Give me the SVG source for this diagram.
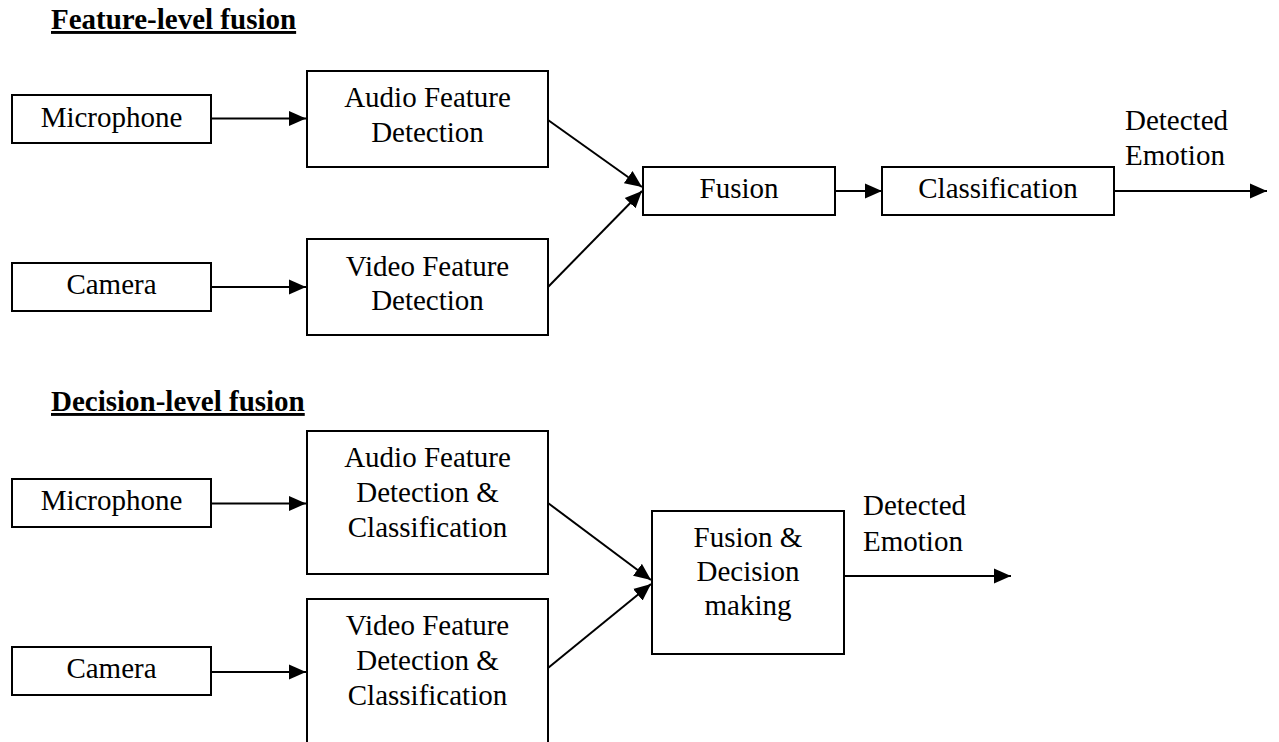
<svg xmlns="http://www.w3.org/2000/svg" width="1279" height="742" viewBox="0 0 1279 742">
<style>
.box{fill:#fff;stroke:#000;stroke-width:2}
.t{font-family:"Liberation Serif","Times New Roman",serif;font-size:29px;fill:#000;text-anchor:middle}
.tl{font-family:"Liberation Serif","Times New Roman",serif;font-size:29px;fill:#000}
.h{font-family:"Liberation Serif","Times New Roman",serif;font-size:29px;font-weight:bold;fill:#000;text-decoration:underline}
.c{stroke:#000;stroke-width:2;fill:none;marker-end:url(#ah)}
</style>
<defs>
<marker id="ah" markerUnits="userSpaceOnUse" markerWidth="18" markerHeight="16" refX="17" refY="8" orient="auto">
<path d="M0,0.5 L17,8 L0,15.5 z" fill="#000"/>
</marker>
</defs>
<rect width="1279" height="742" fill="#fff"/>

<text class="h" x="51" y="29">Feature-level fusion</text>
<text class="h" x="51" y="411">Decision-level fusion</text>

<g id="connectors">
<line class="c" x1="211" y1="118.5" x2="306" y2="118.5"/>
<line class="c" x1="211" y1="287" x2="306" y2="287"/>
<line class="c" x1="548" y1="120" x2="642" y2="187"/>
<line class="c" x1="548" y1="287" x2="642" y2="191"/>
<line class="c" x1="835" y1="191" x2="882" y2="191"/>
<line class="c" x1="1114" y1="191" x2="1267" y2="191"/>
<line class="c" x1="211" y1="503.5" x2="306" y2="503.5"/>
<line class="c" x1="211" y1="672" x2="306" y2="672"/>
<line class="c" x1="548" y1="503" x2="651" y2="580"/>
<line class="c" x1="548" y1="668" x2="651" y2="584"/>
<line class="c" x1="844" y1="576" x2="1011" y2="576"/>
</g>

<g id="f-mic">
<rect class="box" x="12" y="95" width="199" height="48"/>
<text class="t" x="111.5" y="127">Microphone</text>
</g>
<g id="f-cam">
<rect class="box" x="12" y="263" width="199" height="48"/>
<text class="t" x="111.5" y="294">Camera</text>
</g>
<g id="f-audio">
<rect class="box" x="307" y="71" width="241" height="96"/>
<text class="t" x="427.5" y="107">Audio Feature</text>
<text class="t" x="427.5" y="142">Detection</text>
</g>
<g id="f-video">
<rect class="box" x="307" y="239" width="241" height="96"/>
<text class="t" x="427.5" y="276">Video Feature</text>
<text class="t" x="427.5" y="310">Detection</text>
</g>
<g id="f-fusion">
<rect class="box" x="643" y="167" width="192" height="48"/>
<text class="t" x="739" y="198">Fusion</text>
</g>
<g id="f-class">
<rect class="box" x="882" y="167" width="232" height="48"/>
<text class="t" x="998" y="198">Classification</text>
</g>
<g id="f-out">
<text class="tl" x="1125" y="130">Detected</text>
<text class="tl" x="1125" y="165">Emotion</text>
</g>

<g id="d-mic">
<rect class="box" x="12" y="479" width="199" height="48"/>
<text class="t" x="111.5" y="510">Microphone</text>
</g>
<g id="d-cam">
<rect class="box" x="12" y="647" width="199" height="48"/>
<text class="t" x="111.5" y="678">Camera</text>
</g>
<g id="d-audio">
<rect class="box" x="307" y="431" width="241" height="143"/>
<text class="t" x="427.5" y="467">Audio Feature</text>
<text class="t" x="427.5" y="502">Detection &amp;</text>
<text class="t" x="427.5" y="537">Classification</text>
</g>
<g id="d-video">
<rect class="box" x="307" y="599" width="241" height="160"/>
<text class="t" x="427.5" y="635">Video Feature</text>
<text class="t" x="427.5" y="670">Detection &amp;</text>
<text class="t" x="427.5" y="705">Classification</text>
</g>
<g id="d-fusion">
<rect class="box" x="652" y="511" width="192" height="143"/>
<text class="t" x="748" y="547">Fusion &amp;</text>
<text class="t" x="748" y="581">Decision</text>
<text class="t" x="748" y="615">making</text>
</g>
<g id="d-out">
<text class="tl" x="863" y="515">Detected</text>
<text class="tl" x="863" y="551">Emotion</text>
</g>
</svg>
